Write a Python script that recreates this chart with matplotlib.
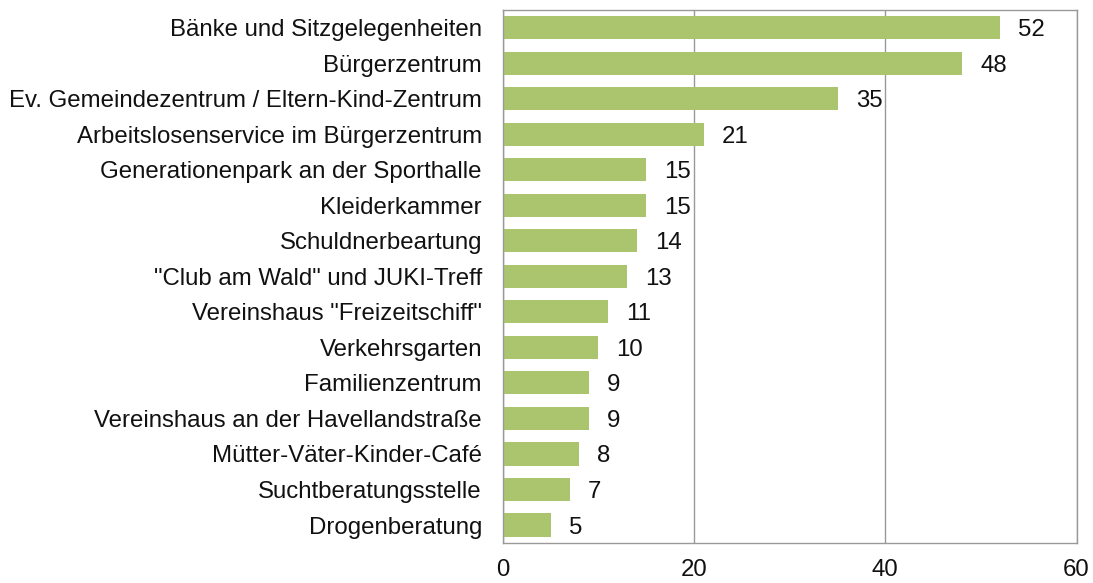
import matplotlib.pyplot as plt
import numpy as np

categories = [
    "Bänke und Sitzgelegenheiten",
    "Bürgerzentrum",
    "Ev. Gemeindezentrum / Eltern-Kind-Zentrum",
    "Arbeitslosenservice im Bürgerzentrum",
    "Generationenpark an der Sporthalle",
    "Kleiderkammer",
    "Schuldnerbeartung",
    "\"Club am Wald\" und JUKI-Treff",
    "Vereinshaus \"Freizeitschiff\"",
    "Verkehrsgarten",
    "Familienzentrum",
    "Vereinshaus an der Havellandstraße",
    "Mütter-Väter-Kinder-Café",
    "Suchtberatungsstelle",
    "Drogenberatung",
]
values = [52, 48, 35, 21, 15, 15, 14, 13, 11, 10, 9, 9, 8, 7, 5]
x_ticks = [0, 20, 40, 60]

plt.rcParams['font.family'] = ['Liberation Sans', 'DejaVu Sans']
FS = 17.3
TXT = '#111111'

fig = plt.figure(figsize=(10.93, 5.83), dpi=100)
ax = fig.add_axes([0.460, 0.069, 0.525, 0.914])

y = np.arange(len(categories))
ax.barh(y, values, height=0.65, color='#abc56e', zorder=2)

for yi, v in zip(y, values):
    ax.text(v + 1.9, yi, str(v), va='center_baseline', ha='left', fontsize=FS, color=TXT)

ax.set_yticks(y)
ax.set_yticklabels(categories, fontsize=FS, color=TXT, va='center_baseline')
ax.set_ylim(len(categories) - 0.5, -0.5)
ax.set_xlim(0, 60)
ax.set_xticks(x_ticks)
ax.set_xticklabels([str(t) for t in x_ticks], fontsize=FS, color=TXT)
ax.tick_params(axis='both', length=0)
ax.tick_params(axis='x', pad=12)
ax.tick_params(axis='y', pad=15)

ax.grid(axis='x', color='#999999', linewidth=1, zorder=1)
for s in ax.spines.values():
    s.set_color('#999999')
    s.set_linewidth(1)

fig.savefig('out.png', dpi=100)
